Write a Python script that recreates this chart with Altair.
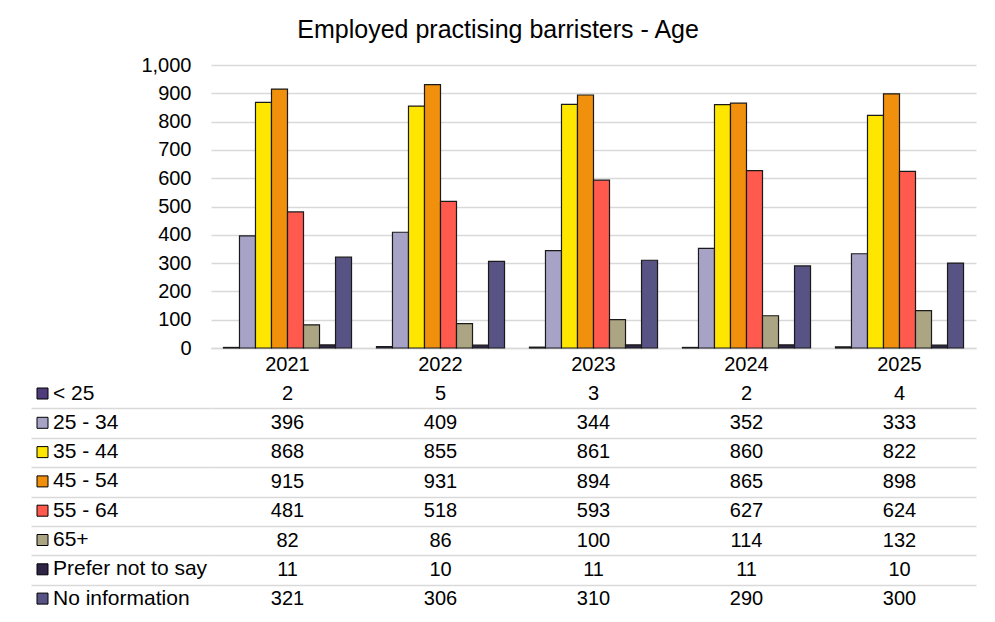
import altair as alt
import pandas as pd

years = ["2021", "2022", "2023", "2024", "2025"]
groups = ["< 25", "25 - 34", "35 - 44", "45 - 54", "55 - 64", "65+",
          "Prefer not to say", "No information"]
colors = ["#4e3d7a", "#a6a3c6", "#ffe600", "#f0900c", "#ff5a4d", "#aca584",
          "#2e2445", "#575385"]

lt25 = [2, 5, 3, 2, 4]
a25_34 = [396, 409, 344, 352, 333]
a35_44 = [868, 855, 861, 860, 822]
a45_54 = [915, 931, 894, 865, 898]
a55_64 = [481, 518, 593, 627, 624]
a65p = [82, 86, 100, 114, 132]
prefer_not = [11, 10, 11, 11, 10]
no_info = [321, 306, 310, 290, 300]

series = [lt25, a25_34, a35_44, a45_54, a55_64, a65p, prefer_not, no_info]
rows = []
for i, (g, vals) in enumerate(zip(groups, series)):
    for y, v in zip(years, vals):
        rows.append({"year": y, "group": g, "row": i, "value": v})
df = pd.DataFrame(rows)

FONT = "Liberation Sans"
GRID = "#d9d9d9"
n_rows = len(groups)

xscale = alt.Scale(domain=years, paddingInner=0.163, paddingOuter=0.0815)

bars = alt.Chart(df).mark_bar(stroke="#1a1a1a", strokeWidth=1.2).encode(
    x=alt.X("year:N", sort=years, scale=xscale,
            axis=alt.Axis(title=None, labelAngle=0, labelFontSize=20, ticks=False,
                          tickSize=0, domainColor=GRID, domainWidth=1.5,
                          labelPadding=6, labelColor="black")),
    xOffset=alt.XOffset("group:N", sort=groups,
                        scale=alt.Scale(domain=groups, paddingInner=0, paddingOuter=0)),
    y=alt.Y("value:Q", scale=alt.Scale(domain=[0, 1000]),
            axis=alt.Axis(title=None, values=list(range(0, 1001, 100)), format=",d",
                          labelFontSize=20, gridColor=GRID, gridWidth=1.5,
                          domain=False, ticks=False, tickSize=0, labelPadding=20,
                          labelColor="black")),
    color=alt.Color("group:N", sort=groups,
                    scale=alt.Scale(domain=groups, range=colors),
                    legend=alt.Legend(title=None, orient="none", legendX=-179, legendY=318,
                                      symbolType="square", symbolSize=121,
                                      symbolStrokeColor="black", symbolStrokeWidth=1,
                                      symbolOpacity=1,
                                      labelFontSize=21, labelColor="black",
                                      rowPadding=7.3, labelOffset=0, padding=0,
                                      offset=0, labelLimit=300)),
).properties(width=765, height=283)

separators = [i + 0.5 for i in range(n_rows - 1)]

table = alt.Chart(df).mark_text(fontSize=20, color="black", font=FONT).encode(
    x=alt.X("year:N", sort=years, scale=xscale, axis=None),
    y=alt.Y("row:Q", scale=alt.Scale(domain=[-0.5, n_rows - 0.5], reverse=True, nice=False, zero=False),
            axis=alt.Axis(title=None, labels=False, domain=False, values=separators,
                          grid=True, gridColor=GRID, gridWidth=1.5,
                          ticks=True, tickSize=180, tickColor=GRID, tickWidth=1.5)),
    text=alt.Text("value:Q"),
).properties(width=765, height=235)

chart = alt.vconcat(bars, table, spacing=5).properties(
    title=alt.TitleParams("Employed practising barristers - Age", fontSize=25,
                          font=FONT, fontWeight="normal", color="black",
                          anchor="middle", offset=12, dx=-5),
    padding={"left": 22, "top": 10, "right": 10, "bottom": 5},
).configure(font=FONT).configure_view(stroke=None)

chart.save("out.html", embed_options={"renderer": "svg", "actions": False})
